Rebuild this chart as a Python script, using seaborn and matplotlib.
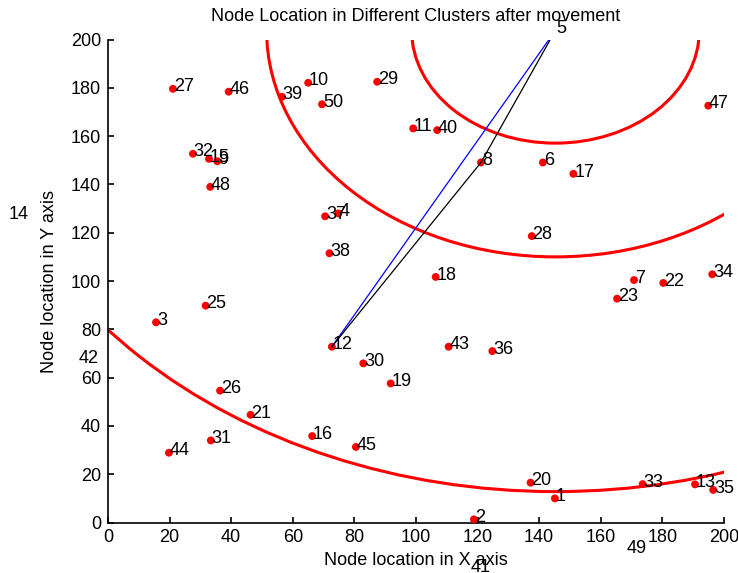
import matplotlib
matplotlib.use('Agg')
import matplotlib.pyplot as plt
from matplotlib.patches import Circle
import pandas as pd
import seaborn as sns

# ---- data ----
node_ids = [1, 2, 3, 4, 5, 6, 7, 8, 9, 10,
            11, 12, 13, 14, 15, 16, 17, 18, 19, 20,
            21, 22, 23, 25, 26, 27, 28, 29, 30,
            31, 32, 33, 34, 35, 36, 37, 38, 39, 40,
            41, 42, 43, 44, 45, 46, 47, 48, 49, 50]
node_x = [145.1, 118.8, 15.6, 74.8, 145.3, 141.2, 170.8, 121.1, 35.5, 65.0,
          99.1, 72.7, 190.6, -32.5, 32.8, 66.3, 151.1, 106.4, 91.8, 137.2,
          46.3, 180.3, 165.3, 31.7, 36.4, 21.1, 137.6, 87.4, 82.9,
          33.4, 27.6, 173.6, 196.2, 196.5, 124.8, 70.5, 71.9, 56.5, 106.9,
          117.4, -9.7, 110.6, 19.8, 80.5, 39.2, 194.9, 33.2, 168.2, 69.5]
node_y = [10.0, 1.3, 82.9, 128.0, 203.8, 149.1, 100.4, 149.1, 149.6, 182.1,
          163.2, 72.8, 15.8, 126.6, 150.6, 35.8, 144.4, 101.7, 57.6, 16.5,
          44.6, 99.2, 92.7, 89.8, 54.6, 179.6, 118.6, 182.5, 65.9,
          34.0, 152.7, 15.9, 102.8, 13.5, 71.0, 126.8, 111.5, 176.3, 162.5,
          -19.5, 67.3, 72.8, 28.9, 31.3, 178.4, 172.6, 139.0, -11.7, 173.2]

cluster_head = 5
ring_radii = [46.7, 93.8, 191.0]

path_direct = [12, 5]
path_relay = [12, 8, 5]

x_ticks = [0, 20, 40, 60, 80, 100, 120, 140, 160, 180, 200]
y_ticks = [0, 20, 40, 60, 80, 100, 120, 140, 160, 180, 200]

title = "Node Location in Different Clusters after movement"
xlabel = "Node location in X axis"
ylabel = "Node location in Y axis"

# ---- plotting ----
sns.set_style('white')
plt.rcParams['font.family'] = ['Liberation Sans', 'DejaVu Sans']
plt.rcParams['font.size'] = 13
plt.rcParams['text.color'] = 'black'
plt.rcParams['axes.labelcolor'] = 'black'
plt.rcParams['xtick.color'] = 'black'
plt.rcParams['ytick.color'] = 'black'

nodes = pd.DataFrame({'id': node_ids, 'x': node_x, 'y': node_y})
pos = nodes.set_index('id')

fig = plt.figure(figsize=(7.38, 5.73), dpi=100)
ax = fig.add_axes([0.1463, 0.0881, 0.8347, 0.8429])

sns.scatterplot(data=nodes, x='x', y='y', color='red', s=32,
                edgecolor='none', ax=ax, zorder=3)

direct = pos.loc[path_direct].reset_index()
relay = pos.loc[path_relay].reset_index()
sns.lineplot(data=direct, x='x', y='y', sort=False, estimator=None,
             color='blue', lw=0.9, ax=ax, zorder=4)
sns.lineplot(data=relay, x='x', y='y', sort=False, estimator=None,
             color='black', lw=0.9, ax=ax, zorder=5)

hx, hy = pos.loc[cluster_head, 'x'], pos.loc[cluster_head, 'y']
for r in ring_radii:
    ax.add_patch(Circle((hx, hy), r, fill=False, edgecolor='red',
                        lw=2.2, zorder=2))

for nid, x, y in zip(node_ids, node_x, node_y):
    ax.annotate(str(nid), (x, y), xytext=(0.6, 1.3),
                textcoords='offset points', ha='left', va='center',
                fontsize=13, color='black', annotation_clip=False,
                zorder=6)

ax.set_xlim(0, 200)
ax.set_ylim(0, 200)
ax.set_xticks(x_ticks)
ax.set_yticks(y_ticks)
ax.set_xticklabels([str(t) for t in x_ticks])
ax.set_yticklabels([str(t) for t in y_ticks])
ax.tick_params(direction='in', length=4, width=1.2, colors='black',
               labelsize=13, pad=5, left=True, bottom=True)
sns.despine(ax=ax)
for s in ['left', 'bottom']:
    ax.spines[s].set_color('black')
    ax.spines[s].set_linewidth(1.2)

ax.set_title(title, fontsize=13, pad=13, color='black')
ax.set_xlabel(xlabel, fontsize=13, labelpad=4)
ax.set_ylabel(ylabel, fontsize=13, labelpad=9)

fig.savefig('out.png', dpi=100)
